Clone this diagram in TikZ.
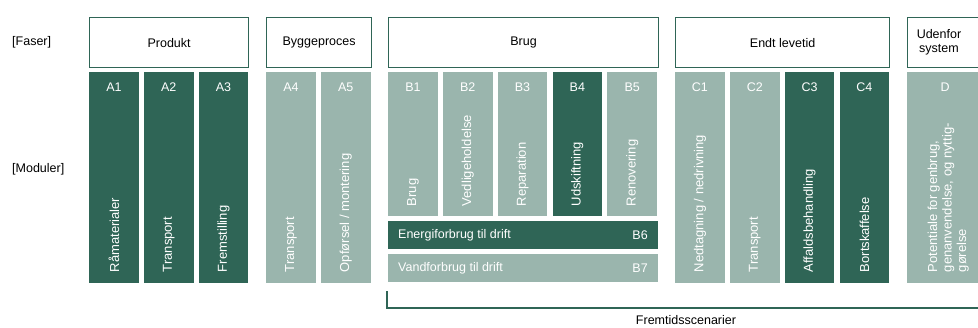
\documentclass[tikz,border=0pt]{standalone}
\usepackage{fontspec}
\setmainfont{Liberation Sans}
\usepackage{tikz}
\usetikzlibrary{positioning}
\definecolor{moerk}{HTML}{2F6556}
\definecolor{lys}{HTML}{9AB5AD}

\begin{document}
\begin{tikzpicture}[x=1pt,y=-1pt,
    fase/.style={rectangle,draw=moerk,line width=1.2pt,fill=white,minimum height=50pt,inner sep=0pt,anchor=north west,font=\fontsize{12.5}{14}\selectfont},
    modul/.style={rectangle,minimum width=49.5pt,inner sep=0pt,anchor=north west},
    kode/.style={text=white,inner sep=0pt,font=\fontsize{12.5}{14}\selectfont},
    modultekst/.style={text=white,rotate=90,anchor=west,align=left,inner sep=0pt,font=\fontsize{13}{14.5}\selectfont},
    bjaelke/.style={rectangle,minimum width=269.5pt,minimum height=28pt,inner sep=0pt,anchor=north west},
    etiket/.style={inner sep=0pt,font=\fontsize{12.5}{14}\selectfont}]
    \useasboundingbox (0,0) rectangle (978,327);
    \clip (0,0) rectangle (978,327);

    % venstre etiketter
    \node[etiket,anchor=west] (faser) at (12,42) {[Faser]};
    \node[etiket,anchor=west] (moduler) at (12,169) {[Moduler]};

    % faser
    \node[fase,minimum width=159pt] (produkt) at (89,17) {Produkt};
    \node[fase,minimum width=105pt] (bygge) at (266,17) {Byggeproces};
    \node[fase,minimum width=270pt] (brug) at (388,17) {Brug};
    \node[fase,minimum width=214pt] (endt) at (675,17) {Endt levetid};
    \node[fase,minimum width=76pt] (udenfor) at (907,17) {};
    \node[etiket,align=center] at ([xshift=32pt]udenfor.west) {Udenfor\\system};

    % moduler A
    \foreach \kode/\navn/\farve [count=\k from 0] in {A1/Råmaterialer/moerk, A2/Transport/moerk, A3/Fremstilling/moerk} {
        \node[modul,fill=\farve,minimum height=211pt] (\kode) at (89+\k*54.8,72) {};
        \node[kode] at ([yshift=-15pt]\kode.north) {\kode};
        \node[modultekst] at ([yshift=11pt]\kode.south) {\navn};
    }
    \foreach \kode/\navn/\farve [count=\k from 0] in {A4/Transport/lys, A5/{Opførsel / montering}/lys} {
        \node[modul,fill=\farve,minimum height=211pt] (\kode) at (266+\k*54.8,72) {};
        \node[kode] at ([yshift=-15pt]\kode.north) {\kode};
        \node[modultekst] at ([yshift=11pt]\kode.south) {\navn};
    }

    % moduler B
    \foreach \kode/\navn/\farve [count=\k from 0] in {B1/Brug/lys, B2/Vedligeholdelse/lys, B3/Reparation/lys, B4/Udskiftning/moerk, B5/Renovering/lys} {
        \node[modul,fill=\farve,minimum height=144pt] (\kode) at (388+\k*54.8,72) {};
        \node[kode] at ([yshift=-15pt]\kode.north) {\kode};
        \node[modultekst] at ([yshift=10pt]\kode.south) {\navn};
    }
    \node[bjaelke,fill=moerk] (B6) at (388,221) {};
    \node[kode,anchor=west] at ([xshift=10pt]B6.west) {Energiforbrug til drift};
    \node[kode,anchor=east] at ([xshift=-10pt]B6.east) {B6};
    \node[bjaelke,fill=lys] (B7) at (388,254) {};
    \node[kode,anchor=west] at ([xshift=10pt]B7.west) {Vandforbrug til drift};
    \node[kode,anchor=east] at ([xshift=-10pt]B7.east) {B7};

    % moduler C
    \foreach \kode/\navn/\farve [count=\k from 0] in {C1/{Nedtagning / nedrivning}/lys, C2/Transport/lys, C3/Affaldsbehandling/moerk, C4/Bortskaffelse/moerk} {
        \node[modul,fill=\farve,minimum height=211pt] (\kode) at (675+\k*54.8,72) {};
        \node[kode] at ([yshift=-15pt]\kode.north) {\kode};
        \node[modultekst] at ([yshift=11pt]\kode.south) {\navn};
    }

    % modul D
    \node[modul,fill=lys,minimum width=76pt,minimum height=211pt] (D) at (907,72) {};
    \node[kode] at ([yshift=-15pt]D.north) {D};
    \node[modultekst] at ([xshift=3pt,yshift=11pt]D.south) {Potentiale for genbrug,\\genanvendelse, og nyttig-\\gørelse};

    % fremtidsscenarier
    \coordinate (brak-slut) at (985,308);
    \draw[moerk,line width=1.8pt] ([xshift=-1pt,yshift=-9pt]B7.south west) |- (brak-slut);
    \node[etiket] (fremtid) at (686,320) {Fremtidsscenarier};
\end{tikzpicture}
\end{document}
